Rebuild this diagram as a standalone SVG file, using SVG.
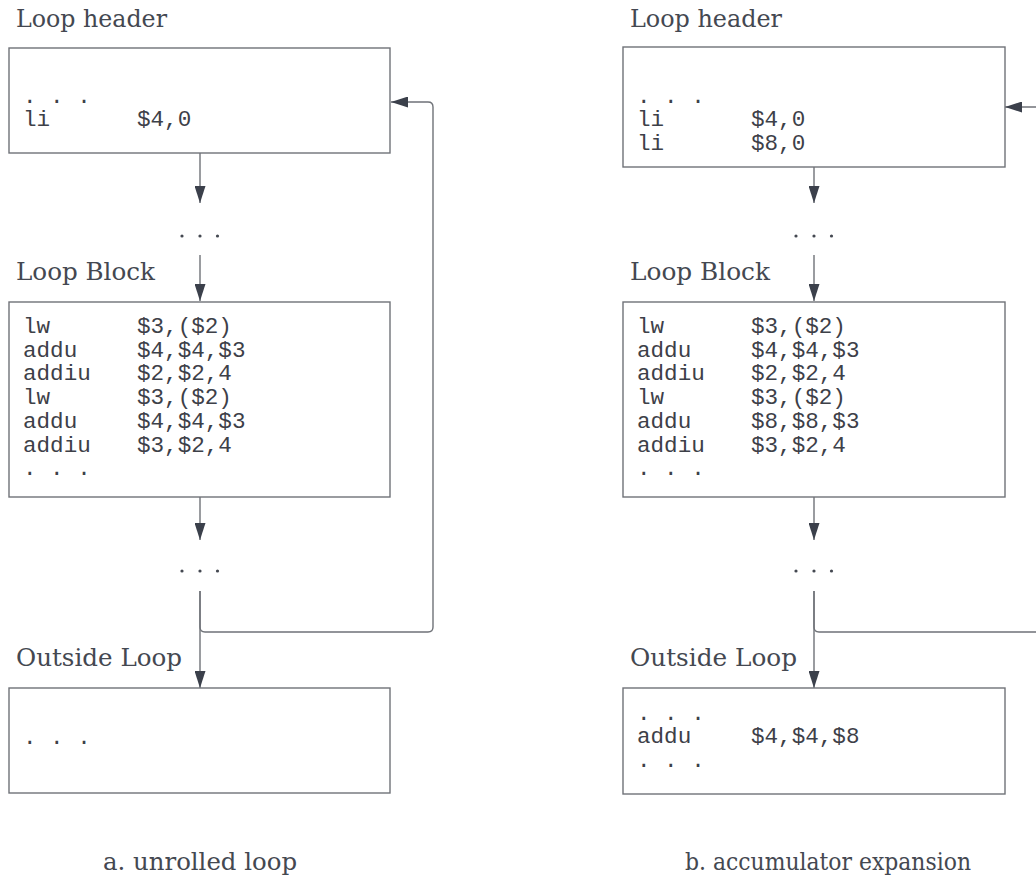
<svg xmlns="http://www.w3.org/2000/svg" width="1036" height="885" viewBox="0 0 1036 885">
  <defs>
    <marker id="arrow" viewBox="0 0 17 11" refX="17" refY="5.5" markerWidth="17" markerHeight="11" markerUnits="userSpaceOnUse" orient="auto">
      <path d="M0,0 L17,5.5 L0,11 Z" fill="#3b404b"/>
    </marker>
  </defs>
  <style>
    .box { fill: #ffffff; stroke: #6f7278; stroke-width: 1.4; }
    .edge { fill: none; stroke: #6f7278; stroke-width: 1.4; }
    .label { font-family: "DejaVu Serif", "Liberation Serif", serif; font-size: 25px; fill: #444851; }
    .code { font-family: "Liberation Mono", "DejaVu Sans Mono", monospace; font-size: 22.6px; fill: #3d4048; }
    .caption { font-family: "DejaVu Serif", "Liberation Serif", serif; font-size: 25px; fill: #444851; text-anchor: middle; }
  </style>
  <rect width="1036" height="885" fill="#ffffff"/>

  <!-- connectors -->
  <g id="connectors">
    <!-- a. unrolled loop -->
    <path class="edge" d="M200,153 V203" marker-end="url(#arrow)"/>
    <path class="edge" d="M200,255 V301" marker-end="url(#arrow)"/>
    <path class="edge" d="M200,497 V540" marker-end="url(#arrow)"/>
    <path class="edge" d="M200,591 V688" marker-end="url(#arrow)"/>
    <path class="edge" d="M200,591 V627 Q200,632 205,632 H428 Q433,632 433,627 V107 Q433,102 428,102 H391" marker-end="url(#arrow)"/>
    <!-- b. accumulator expansion -->
    <path class="edge" d="M814,167 V203" marker-end="url(#arrow)"/>
    <path class="edge" d="M814,255 V301" marker-end="url(#arrow)"/>
    <path class="edge" d="M814,497 V540" marker-end="url(#arrow)"/>
    <path class="edge" d="M814,591 V688" marker-end="url(#arrow)"/>
    <path class="edge" d="M814,591 V627 Q814,632 819,632 H1040"/>
    <path class="edge" d="M1040,107 H1005" marker-end="url(#arrow)"/>
    <!-- ellipses between blocks -->
    <g fill="#444851">
      <circle cx="182" cy="236" r="1.6"/><circle cx="200" cy="236" r="1.6"/><circle cx="217.5" cy="236" r="1.6"/>
      <circle cx="182" cy="571" r="1.6"/><circle cx="200" cy="571" r="1.6"/><circle cx="217.5" cy="571" r="1.6"/>
      <circle cx="796" cy="236" r="1.6"/><circle cx="814" cy="236" r="1.6"/><circle cx="831.5" cy="236" r="1.6"/>
      <circle cx="796" cy="571" r="1.6"/><circle cx="814" cy="571" r="1.6"/><circle cx="831.5" cy="571" r="1.6"/>
    </g>
  </g>

  <!-- a. unrolled loop -->
  <g id="a-header">
    <text class="label" x="16" y="27" textLength="151" lengthAdjust="spacingAndGlyphs">Loop header</text>
    <rect class="box" x="9" y="48" width="381" height="105"/>
    <text class="code" x="23" y="102.5">. . .</text>
    <text class="code" x="23" y="126">li</text>
    <text class="code" x="137" y="126">$4,0</text>
  </g>
  <g id="a-block">
    <text class="label" x="16" y="280" textLength="139" lengthAdjust="spacingAndGlyphs">Loop Block</text>
    <rect class="box" x="9" y="302" width="381" height="195"/>
    <text class="code" x="23" y="333">lw</text><text class="code" x="137" y="333">$3,($2)</text>
    <text class="code" x="23" y="356.7">addu</text><text class="code" x="137" y="356.7">$4,$4,$3</text>
    <text class="code" x="23" y="380.4">addiu</text><text class="code" x="137" y="380.4">$2,$2,4</text>
    <text class="code" x="23" y="404.1">lw</text><text class="code" x="137" y="404.1">$3,($2)</text>
    <text class="code" x="23" y="427.8">addu</text><text class="code" x="137" y="427.8">$4,$4,$3</text>
    <text class="code" x="23" y="451.5">addiu</text><text class="code" x="137" y="451.5">$3,$2,4</text>
    <text class="code" x="23" y="475">. . .</text>
  </g>
  <g id="a-outside">
    <text class="label" x="16" y="666" textLength="166" lengthAdjust="spacingAndGlyphs">Outside Loop</text>
    <rect class="box" x="9" y="688" width="381" height="105"/>
    <text class="code" x="23" y="744">. . .</text>
  </g>
  <text class="caption" x="200" y="870" textLength="194" lengthAdjust="spacingAndGlyphs">a. unrolled loop</text>

  <!-- b. accumulator expansion -->
  <g id="b-header">
    <text class="label" x="630" y="27" textLength="152" lengthAdjust="spacingAndGlyphs">Loop header</text>
    <rect class="box" x="623" y="47" width="382" height="120"/>
    <text class="code" x="637" y="102.5">. . .</text>
    <text class="code" x="637" y="126">li</text><text class="code" x="751" y="126">$4,0</text>
    <text class="code" x="637" y="149.5">li</text><text class="code" x="751" y="149.5">$8,0</text>
  </g>
  <g id="b-block">
    <text class="label" x="630" y="280" textLength="140" lengthAdjust="spacingAndGlyphs">Loop Block</text>
    <rect class="box" x="623" y="302" width="382" height="195"/>
    <text class="code" x="637" y="333">lw</text><text class="code" x="751" y="333">$3,($2)</text>
    <text class="code" x="637" y="356.7">addu</text><text class="code" x="751" y="356.7">$4,$4,$3</text>
    <text class="code" x="637" y="380.4">addiu</text><text class="code" x="751" y="380.4">$2,$2,4</text>
    <text class="code" x="637" y="404.1">lw</text><text class="code" x="751" y="404.1">$3,($2)</text>
    <text class="code" x="637" y="427.8">addu</text><text class="code" x="751" y="427.8">$8,$8,$3</text>
    <text class="code" x="637" y="451.5">addiu</text><text class="code" x="751" y="451.5">$3,$2,4</text>
    <text class="code" x="637" y="475">. . .</text>
  </g>
  <g id="b-outside">
    <text class="label" x="630" y="666" textLength="167" lengthAdjust="spacingAndGlyphs">Outside Loop</text>
    <rect class="box" x="623" y="688" width="382" height="106"/>
    <text class="code" x="637" y="719.5">. . .</text>
    <text class="code" x="637" y="743">addu</text><text class="code" x="751" y="743">$4,$4,$8</text>
    <text class="code" x="637" y="766.5">. . .</text>
  </g>
  <text class="caption" x="828" y="870" textLength="286" lengthAdjust="spacingAndGlyphs">b. accumulator expansion</text>
</svg>
